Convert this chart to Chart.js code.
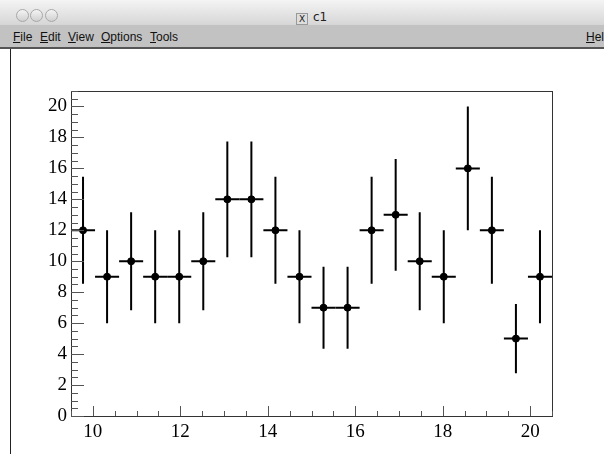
<!DOCTYPE html>
<html>
<head>
<meta charset="utf-8">
<script src="https://cdn.jsdelivr.net/npm/chart.js@4.4.0/dist/chart.umd.min.js"></script>
<style>
  body { margin: 0; width: 604px; height: 454px; overflow: hidden; background: #fff; font-family: "Liberation Sans", sans-serif; }
  #wrap { position: absolute; left: 0; top: 0; width: 604px; height: 454px; }
  .titlebar { position: absolute; left: 0; top: 0; width: 604px; height: 25px; background: linear-gradient(#f4f4f4, #d6d6d6); z-index: 2; }
  .btn { position: absolute; top: 9px; width: 11px; height: 11px; border-radius: 50%; border: 1px solid #a8a8a8; background: linear-gradient(#f4f4f4, #d0d0d0); }
  .title { position: absolute; top: 10px; left: 296px; font-size: 12px; color: #222; font-family: "DejaVu Sans", sans-serif; }
  .title .x { display: inline-block; width: 10px; height: 10px; border: 1px solid #999; background: #ddd; font-size: 9px; line-height: 10px; text-align: center; margin-right: 5px; vertical-align: -1px; }
  .menubar { position: absolute; left: 0; top: 25px; width: 604px; height: 22px; background: #c2c2c2; border-bottom: 2px solid #555; z-index: 2; font-size: 12px; color: #111; }
  .menubar span { position: absolute; top: 5px; }
  .menubar u { text-decoration: underline; }
  .edge { position: absolute; left: 10px; top: 49px; width: 1px; height: 405px; background: #222; z-index: 2; }
</style>
</head>
<body>
<div class="titlebar">
  <div class="btn" style="left:16px"></div>
  <div class="btn" style="left:30px"></div>
  <div class="btn" style="left:45px"></div>
  <div class="title"><span class="x">X</span>c1</div>
</div>
<div class="menubar">
  <span style="left:13px"><u>F</u>ile</span>
  <span style="left:40px"><u>E</u>dit</span>
  <span style="left:68px"><u>V</u>iew</span>
  <span style="left:101px"><u>O</u>ptions</span>
  <span style="left:150px"><u>T</u>ools</span>
  <span style="left:586px"><u>H</u>el</span>
</div>
<div class="edge"></div>
<div id="wrap"><canvas id="c1" width="604" height="454"></canvas></div>
<script>
// bin centres and contents
const binCenters = [9.775, 10.325, 10.875, 11.425, 11.975, 12.525, 13.075, 13.625, 14.175, 14.725,
                    15.275, 15.825, 16.375, 16.925, 17.475, 18.025, 18.575, 19.125, 19.675, 20.225];
const counts = [12, 9, 10, 9, 9, 10, 14, 14, 12, 9, 7, 7, 12, 13, 10, 9, 16, 12, 5, 9];
const yErrors = [3.46, 3, 3.16, 3, 3, 3.16, 3.74, 3.74, 3.46, 3, 2.65, 2.65, 3.46, 3.61, 3.16, 3, 4, 3.46, 2.24, 3];
const xHalfWidth = 0.275;
const xTickValues = [10, 12, 14, 16, 18, 20];
const yTickValues = [0, 2, 4, 6, 8, 10, 12, 14, 16, 18, 20];

const points = binCenters.map((x, i) => ({ x: x, y: counts[i] }));

// error bars, drawn under the markers
const errorBars = {
  id: 'errorBars',
  beforeDatasetsDraw(chart) {
    const { ctx, scales: { x, y } } = chart;
    ctx.save();
    ctx.strokeStyle = '#000';
    ctx.lineWidth = 2;
    points.forEach((p, i) => {
      const px = x.getPixelForValue(p.x);
      const py = y.getPixelForValue(p.y);
      ctx.beginPath();
      ctx.moveTo(px, y.getPixelForValue(p.y + yErrors[i]));
      ctx.lineTo(px, y.getPixelForValue(p.y - yErrors[i]));
      ctx.moveTo(x.getPixelForValue(p.x - xHalfWidth), py);
      ctx.lineTo(x.getPixelForValue(p.x + xHalfWidth), py);
      ctx.stroke();
    });
    ctx.restore();
  }
};

// frame + inward ROOT-style ticks
const rootFrame = {
  id: 'rootFrame',
  afterDraw(chart) {
    const { ctx, chartArea: a, scales: { x, y } } = chart;
    ctx.save();
    ctx.strokeStyle = '#333';
    ctx.lineWidth = 1;
    ctx.strokeRect(Math.round(a.left) + 0.5, Math.round(a.top) + 0.5,
                   Math.round(a.right - a.left), Math.round(a.bottom - a.top));
    ctx.strokeStyle = '#555';
    ctx.beginPath();
    for (let v = 0; v <= 21.001; v += 0.5) {
      const py = Math.round(y.getPixelForValue(v)) + 0.5;
      const len = (v % 2 === 0) ? 13 : 7;
      ctx.moveTo(a.left, py);
      ctx.lineTo(a.left + len, py);
    }
    for (let v = 9.5; v <= 20.501; v += 0.5) {
      const px = Math.round(x.getPixelForValue(v)) + 0.5;
      const len = (v % 2 === 0) ? 10 : 5;
      ctx.moveTo(px, a.bottom);
      ctx.lineTo(px, a.bottom - len);
    }
    ctx.stroke();
    ctx.restore();
  }
};

new Chart(document.getElementById('c1'), {
  type: 'scatter',
  data: {
    datasets: [{
      data: points,
      backgroundColor: '#000',
      borderColor: '#000',
      pointRadius: 3.5,
      pointHoverRadius: 3.5
    }]
  },
  options: {
    responsive: false,
    animation: false,
    events: [],
    layout: { padding: { left: 31, top: 91, right: 52, bottom: 8 } },
    plugins: { legend: { display: false }, tooltip: { enabled: false } },
    scales: {
      x: {
        type: 'linear',
        min: 9.5,
        max: 20.5,
        afterBuildTicks: s => { s.ticks = xTickValues.map(v => ({ value: v })); },
        afterFit: s => { s.height = 30; },
        grid: { display: false, drawTicks: false },
        border: { display: false },
        ticks: { padding: 5, color: '#000', font: { family: 'Liberation Serif', size: 19 } }
      },
      y: {
        type: 'linear',
        min: 0,
        max: 21,
        afterBuildTicks: s => { s.ticks = yTickValues.map(v => ({ value: v })); },
        afterFit: s => { s.width = 40; },
        grid: { display: false, drawTicks: false },
        border: { display: false },
        ticks: { padding: 4, color: '#000', font: { family: 'Liberation Serif', size: 19 } }
      }
    }
  },
  plugins: [errorBars, rootFrame]
});
</script>
</body>
</html>
